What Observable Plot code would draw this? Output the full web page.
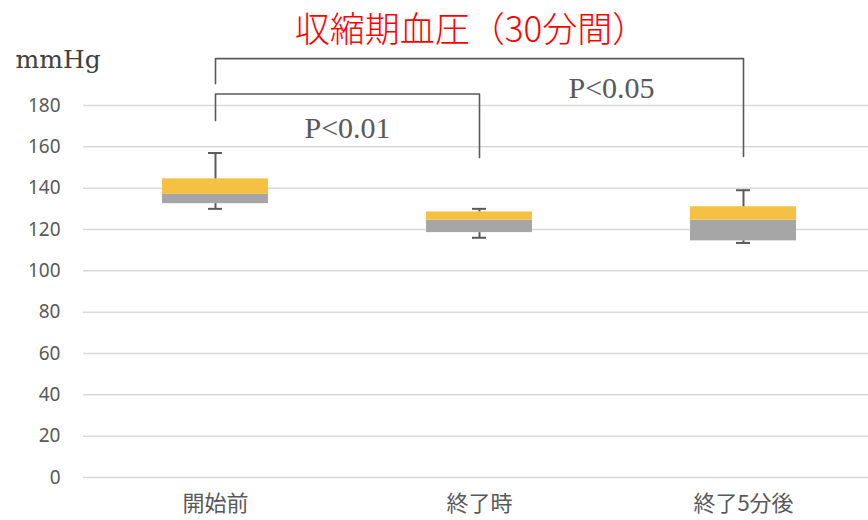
<!DOCTYPE html>
<html><head><meta charset="utf-8">
<script src="https://cdn.jsdelivr.net/npm/d3@7"></script>
<script src="https://cdn.jsdelivr.net/npm/@observablehq/plot@0.6"></script>
<style>
body{margin:0;background:#fff;width:868px;height:520px;overflow:hidden}
#title{height:46px;box-sizing:border-box;padding-top:8px;padding-left:74px;text-align:center;font-family:"Noto Sans CJK JP",sans-serif;font-size:35px;line-height:38px;color:#f00;white-space:nowrap;font-weight:300}
</style></head><body>
<div id="title">収縮期血圧（30分間）</div>
<div id="chart"></div>
<script>
// --- data ---
const categories = ["開始前", "終了時", "終了5分後"];
const mins    = [130, 116, 113.5];
const q1s     = [132.5, 118.5, 114.5];
const medians = [137, 124.5, 124.5];
const q3s     = [144.5, 128.5, 131];
const maxs    = [157, 130, 139];
const yTicks  = [0, 20, 40, 60, 80, 100, 120, 140, 160, 180];
const unitLabel = "mmHg";

// significance brackets (data units)
const bracketText   = ["P<0.01", "P<0.05"];
const bracketFrom   = ["開始前", "開始前"];
const bracketTo     = ["終了時", "終了5分後"];
const bracketFromY  = [172.7, 190.6];
const bracketTopY   = [185.6, 202.7];
const bracketToY    = [154.8, 155.3];
const labelAt       = ["開始前", "終了時"];
const labelY        = [169.1, 188.2];

// --- tables built from arrays ---
const rows = categories.map((c, i) => ({c, min: mins[i], q1: q1s[i], med: medians[i], q3: q3s[i], max: maxs[i]}));
const bracketPts = bracketText.flatMap((t, i) => [
  {g: i, x: bracketFrom[i], y: bracketFromY[i]},
  {g: i, x: bracketFrom[i], y: bracketTopY[i]},
  {g: i, x: bracketTo[i], y: bracketTopY[i]},
  {g: i, x: bracketTo[i], y: bracketToY[i]}
]);
const labels = bracketText.map((t, i) => ({t, x: labelAt[i], y: labelY[i]}));

const ink = "#595959";
const chart = Plot.plot({
  width: 868, height: 474,
  marginLeft: 83, marginRight: 0, marginTop: 59, marginBottom: 43,
  style: {fontFamily: "'Noto Sans','Noto Sans CJK JP',sans-serif", color: ink, background: "#fff", overflow: "visible"},
  x: {domain: categories, range: [83, 875], paddingInner: 0.6, paddingOuter: 0.3, label: null},
  y: {domain: [0, 180], label: null},
  marks: [
    Plot.ruleY(yTicks, {stroke: "#d9d9d9", strokeWidth: 1.5}),
    Plot.axisY({ticks: yTicks, tickSize: 0, tickPadding: 23, fontSize: 19, label: null}),
    Plot.axisX({tickSize: 0, tickPadding: 18, fontSize: 22, label: null, fontFamily: "'Noto Sans CJK JP',sans-serif"}),
    Plot.barY(rows, {x: "c", y1: "q1", y2: "med", fill: "#a6a6a6"}),
    Plot.barY(rows, {x: "c", y1: "med", y2: "q3", fill: "#f4c143"}),
    Plot.ruleX(rows, {x: "c", y1: "q3", y2: "max", stroke: ink, strokeWidth: 2}),
    Plot.ruleX(rows, {x: "c", y1: "min", y2: "q1", stroke: ink, strokeWidth: 2}),
    Plot.tickY(rows, {x: "c", y: "max", stroke: ink, strokeWidth: 2, insetLeft: 46, insetRight: 46}),
    Plot.tickY(rows, {x: "c", y: "min", stroke: ink, strokeWidth: 2, insetLeft: 46, insetRight: 46}),
    Plot.line(bracketPts, {x: "x", y: "y", z: "g", stroke: ink, strokeWidth: 1.6, curve: "linear"}),
    Plot.text(labels, {x: "x", y: "y", text: "t", dx: 132, fontFamily: "'Liberation Serif',serif", fontSize: 30, fill: ink}),
    Plot.text([unitLabel], {text: d => d, frameAnchor: "top-left", dx: -68, dy: -55, textAnchor: "start", fontFamily: "'DejaVu Serif',serif", fontSize: 25, fill: "#404040"})
  ]
});
document.getElementById("chart").appendChild(chart);
</script></body></html>
